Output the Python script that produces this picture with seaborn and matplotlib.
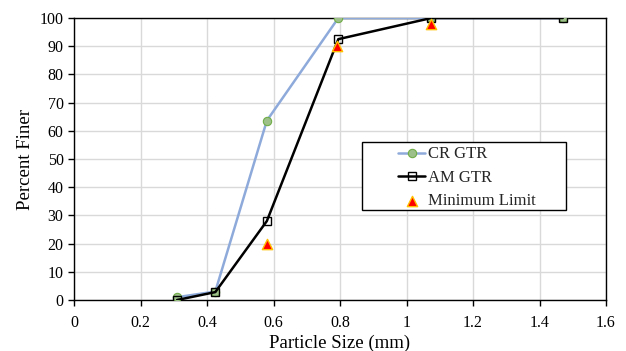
import matplotlib
matplotlib.use("Agg")
import matplotlib.pyplot as plt
from matplotlib.patches import Rectangle
import seaborn as sns
import pandas as pd

size_mm = [0.31, 0.425, 0.58, 0.795, 1.075, 1.47]
cr_gtr = [1.0, 3.0, 63.6, 100.0, 100.0, 100.0]
am_gtr = [0.0, 2.8, 28.0, 92.5, 100.0, 100.0]
min_size = [0.58, 0.79, 1.075]
min_limit = [20.0, 90.0, 98.0]

sns.set_theme(style="white")
plt.rcParams['font.family'] = ['Liberation Serif', 'DejaVu Serif']

W, H = 626, 351
fig = plt.figure(figsize=(W/100, H/100), dpi=100)
ax = fig.add_axes([74/W, 1-300/H, (606-74)/W, (300-18)/H])

cr = pd.DataFrame({"x": size_mm, "y": cr_gtr})
am = pd.DataFrame({"x": size_mm, "y": am_gtr})
ml = pd.DataFrame({"x": min_size, "y": min_limit})

sns.lineplot(data=cr, x="x", y="y", ax=ax, color="#8eaadb", lw=1.8, marker="o",
             markersize=6, markerfacecolor="#9dc08b", markeredgecolor="#70ad47",
             markeredgewidth=0.8, label="CR GTR", sort=False, zorder=3)
sns.lineplot(data=am, x="x", y="y", ax=ax, color="black", lw=1.8, marker="s",
             markersize=6, markerfacecolor="none", markeredgecolor="black",
             markeredgewidth=1.0, label="AM GTR", sort=False, zorder=4)
sns.scatterplot(data=ml, x="x", y="y", ax=ax, marker="^", s=55, color="#ff0000",
                edgecolor="#ffc000", linewidth=1.0, label="Minimum Limit", zorder=5)

ax.set_xlim(0, 1.6)
ax.set_ylim(0, 100)
ax.set_xticks([0, 0.2, 0.4, 0.6, 0.8, 1.0, 1.2, 1.4, 1.6])
ax.set_xticklabels(["0", "0.2", "0.4", "0.6", "0.8", "1", "1.2", "1.4", "1.6"])
ax.set_yticks(range(0, 101, 10))
ax.grid(True, color="#d9d9d9", lw=1.0)
ax.set_axisbelow(True)
for s in ax.spines.values():
    s.set_color("black")
    s.set_linewidth(1.0)
ax.tick_params(axis="both", which="both", direction="out", length=4, width=1,
               colors="black", labelsize=11.5, bottom=True, left=True, top=False, right=False)
ax.tick_params(axis="x", pad=6.5)
ax.set_xlabel("Particle Size (mm)", fontsize=13.5, color="black", labelpad=3)
ax.set_ylabel("Percent Finer", fontsize=13.5, color="black", labelpad=4)

# legend box
box = Rectangle((362/W, 1-210/H), (566-362)/W, 68/H, transform=fig.transFigure,
                facecolor="white", edgecolor="black", lw=1.0, zorder=6, clip_on=False)
ax.add_patch(box)

leg = ax.legend(loc="upper left", bbox_to_anchor=(398/W, 1-146.5/H),
                bbox_transform=fig.transFigure, frameon=False, fontsize=12,
                handlelength=1.62, handletextpad=0.2, borderpad=0, borderaxespad=0,
                labelspacing=0.44)
leg.set_zorder(7)

fig.savefig("out.png", dpi=100)
